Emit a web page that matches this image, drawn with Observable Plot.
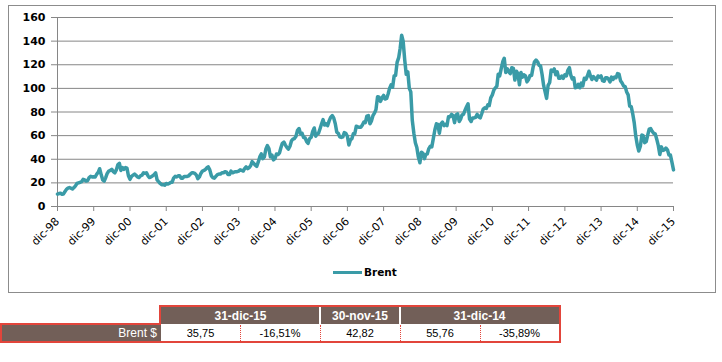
<!DOCTYPE html>
<html><head><meta charset="utf-8">
<script src="https://cdn.jsdelivr.net/npm/d3@7"></script>
<script src="https://cdn.jsdelivr.net/npm/@observablehq/plot@0.6"></script>
<style>
body{margin:0;width:722px;height:362px;position:relative;background:#fff;overflow:hidden;font-family:"Liberation Sans",Arial,sans-serif}
#frame{position:absolute;left:8px;top:5px;width:706px;height:286px;border:1px solid #8c8c8c;box-sizing:content-box}
#chart{position:absolute;left:0;top:0}
#chart svg{overflow:visible}
#chart [aria-label="y-axis tick label"]{font-weight:bold;font-family:"DejaVu Sans",Verdana,sans-serif;font-size:11px;fill:#000}
#chart [aria-label="x-axis tick label"]{font-family:"DejaVu Sans",Verdana,sans-serif;font-size:11px;fill:#000}
#legend{position:absolute;left:333px;top:264px;height:16px;display:flex;align-items:center;font-family:"DejaVu Sans",Verdana,sans-serif;font-weight:bold;font-size:10.5px;color:#000}
#legend .sw{display:inline-block;width:29px;height:3px;background:#3a9ba7;margin-right:2px}
.cell{position:absolute;box-sizing:border-box;display:flex;align-items:center;justify-content:center;white-space:nowrap}
.hd{background:#725f58;color:#fff;font-weight:bold;font-size:12px;top:307px;height:17px}
.dt{background:#fff;color:#000;font-size:11px;top:324px;height:17px}
</style></head>
<body>
<div id="frame"></div>
<div id="chart"></div>
<div id="legend"></div>
<div id="table"></div>
<script>
// ---- data: Brent price (USD/bbl), two readings per month (15th and month end) ----
const startValue = 10.5; // 31-dic-1998
const years = [1999,2000,2001,2002,2003,2004,2005,2006,2007,2008,2009,2010,2011,2012,2013,2014,2015];
const y1999 = [11.0,11.3,10.3,10.5,12.5,14.5,15.5,16.0,15.5,14.8,16.0,17.5,19.5,20.0,20.5,21.0,23.0,22.5,21.5,22.0,24.5,25.5,25.0,25.2];
const y2000 = [25.0,27.5,29.0,32.0,27.0,22.5,21.5,24.5,28.0,30.0,30.5,31.5,29.5,28.5,31.0,35.5,36.5,30.5,33.0,31.5,33.0,32.5,26.0,23.0];
const y2001 = [25.5,26.5,27.5,26.5,25.0,24.5,26.0,26.5,28.5,28.0,28.5,26.0,24.5,25.0,26.0,27.0,28.5,22.5,21.0,19.5,18.5,18.5,18.0,19.5];
const y2002 = [19.0,19.5,20.5,20.5,24.0,25.5,25.0,26.0,26.0,24.0,24.0,25.5,25.5,25.5,26.0,27.5,28.5,28.5,28.0,26.5,23.5,25.0,28.0,30.0];
const y2003 = [30.5,31.5,33.0,33.5,31.0,26.0,24.5,24.0,25.5,27.0,27.5,27.5,28.5,28.5,29.5,29.0,27.0,27.0,30.0,28.5,29.0,29.5,29.5,30.0];
const y2004 = [31.0,30.5,30.0,32.0,33.5,32.0,33.0,34.5,38.0,36.5,35.0,34.0,37.5,42.0,44.5,40.5,42.0,48.5,51.5,49.0,42.0,43.5,39.5,40.5];
const y2005 = [44.5,44.0,45.5,49.5,53.5,54.5,52.0,50.0,48.5,51.0,55.5,57.0,57.5,59.5,64.5,66.0,61.5,62.0,58.5,58.0,55.0,53.5,57.5,58.5];
const y2006 = [63.5,66.5,59.5,61.5,62.0,66.0,70.0,73.5,69.0,70.0,68.5,72.5,75.5,77.0,75.0,70.0,63.0,62.0,59.0,58.5,59.0,62.5,62.0,59.5];
const y2007 = [52.0,56.5,57.5,61.5,61.5,68.0,67.5,67.0,67.0,69.0,71.5,71.0,76.5,77.0,70.0,72.5,77.0,79.0,82.0,93.0,92.5,89.0,92.0,94.0];
const y2008 = [91.0,91.5,95.5,100.0,103.0,101.0,110.5,111.0,122.0,126.0,134.0,145.0,140.0,124.0,112.0,114.0,100.0,97.0,73.0,62.0,54.0,50.0,42.0,37.0];
const y2009 = [46.0,45.0,40.5,44.0,44.5,49.0,51.0,50.5,57.5,65.0,70.0,69.5,62.0,70.0,71.5,68.5,69.5,68.5,76.0,76.0,78.0,77.0,71.0,77.5];
const y2010 = [78.5,72.0,74.0,77.5,78.0,81.5,84.5,87.0,74.0,72.0,75.0,75.0,75.5,78.0,76.0,75.0,78.5,82.5,83.5,83.0,86.0,85.5,92.0,94.5];
const y2011 = [98.5,100.5,102.0,112.0,110.5,117.0,122.5,125.5,113.5,116.5,114.0,112.5,117.5,117.0,107.0,114.5,112.5,103.0,113.5,109.5,111.5,110.5,105.5,107.5];
const y2012 = [111.0,111.0,118.0,122.5,124.0,122.5,119.5,119.0,112.0,102.5,97.0,91.5,102.5,105.0,115.5,114.5,116.5,111.5,114.0,108.5,108.5,110.5,108.5,111.5];
const y2013 = [110.5,115.5,117.5,111.5,108.0,109.0,100.5,101.0,103.5,100.5,104.5,102.0,108.5,107.5,110.5,114.5,110.5,107.5,110.0,108.5,107.0,110.5,109.5,110.5];
const y2014 = [106.5,106.0,109.0,109.0,108.0,105.5,109.5,107.5,109.5,109.0,112.5,112.0,106.5,104.5,102.0,101.5,97.0,94.5,85.0,84.5,78.5,71.0,60.0,52.0];
const y2015 = [47.0,51.0,60.5,60.0,54.0,55.0,60.5,65.5,66.0,63.5,62.0,61.5,57.0,51.5,44.0,50.5,47.5,48.0,49.5,48.0,43.5,43.5,37.5,31.0];
const yearValues = [y1999,y2000,y2001,y2002,y2003,y2004,y2005,y2006,y2007,y2008,y2009,y2010,y2011,y2012,y2013,y2014,y2015];

const xTickLabels = ["dic-98","dic-99","dic-00","dic-01","dic-02","dic-03","dic-04","dic-05","dic-06","dic-07","dic-08","dic-09","dic-10","dic-11","dic-12","dic-13","dic-14","dic-15"];
const xTickYears = [1998,1999,2000,2001,2002,2003,2004,2005,2006,2007,2008,2009,2010,2011,2012,2013,2014,2015];
const yTicks = [0,20,40,60,80,100,120,140,160];
const seriesName = "Brent";

const tableHeaders = ["31-dic-15","30-nov-15","31-dic-14"];
const rowLabel = "Brent $";
const rowValues = ["35,75","-16,51%","42,82","55,76","-35,89%"];

// ---- build table for the line ----
const data = [{date: new Date(Date.UTC(1998,11,31)), value: startValue}];
years.forEach((yr, i) => {
  yearValues[i].forEach((v, j) => {
    const m = Math.floor(j / 2);
    const d = j % 2 === 0 ? new Date(Date.UTC(yr, m, 15)) : new Date(Date.UTC(yr, m + 1, 0));
    data.push({date: d, value: v});
  });
});
const xTickDates = xTickYears.map(y => new Date(Date.UTC(y, 11, 31)));
const grey = "#868686";
const teal = "#3a9ba7";

const chart = Plot.plot({
  width: 722, height: 300,
  marginLeft: 57, marginRight: 49, marginTop: 17, marginBottom: 94,
  style: {fontFamily: "'DejaVu Sans', Verdana, sans-serif", fontSize: "11px", color: "#000", background: "transparent"},
  x: {type: "utc", domain: [xTickDates[0], xTickDates[xTickDates.length - 1]]},
  y: {domain: [0, 160]},
  marks: [
    Plot.gridY(yTicks, {stroke: grey, strokeOpacity: 1}),
    Plot.axisY(yTicks, {tickSize: 6, tickPadding: 6, stroke: grey, strokeOpacity: 1, label: null, fontWeight: "bold"}),
    Plot.axisX(xTickDates, {tickSize: 5, tickPadding: 8, tickRotate: -45, stroke: grey, strokeOpacity: 1, label: null,
      tickFormat: d => xTickLabels[xTickDates.findIndex(t => +t === +d)]}),
    Plot.ruleX([xTickDates[0]], {stroke: grey}),
    Plot.ruleY([0], {stroke: grey}),
    Plot.line(data, {x: "date", y: "value", stroke: teal, strokeWidth: 3.5})
  ]
});
document.getElementById("chart").appendChild(chart);

// legend
const lg = document.getElementById("legend");
lg.innerHTML = `<span class="sw"></span><span>${seriesName}</span>`;

// table
const tb = document.getElementById("table");
const red = "#e2453b";
const hdCols = [[161,320],[320,400],[400,559]];
let html = "";
tableHeaders.forEach((h, i) => {
  const [a, b] = hdCols[i];
  html += `<div class="cell hd" style="left:${a}px;width:${b - a}px">${h}</div>`;
});
html += `<div style="position:absolute;left:319px;top:307px;width:2px;height:17px;background:#fff"></div>`;
html += `<div style="position:absolute;left:399px;top:307px;width:2px;height:17px;background:#fff"></div>`;
const dtCols = [[161,240],[240,320],[320,400],[400,480],[480,559]];
rowValues.forEach((v, i) => {
  const [a, b] = dtCols[i];
  html += `<div class="cell dt" style="left:${a}px;width:${b - a}px">${v}</div>`;
});
[240,320,400,480].forEach(x => {
  html += `<div style="position:absolute;left:${x}px;top:325px;width:0;height:16px;border-left:1px dotted ${red}"></div>`;
});
html += `<div style="position:absolute;left:159px;top:305px;width:402px;height:38px;box-sizing:border-box;border:2px solid ${red}"></div>`;
html += `<div class="cell" style="left:0;top:323px;width:161px;height:20px;background:#725f58;color:#fff;font-size:12px;justify-content:flex-end;padding-right:4px;border:2px solid ${red};border-right:none">${rowLabel}</div>`;
tb.innerHTML = html;
</script>
</body></html>
